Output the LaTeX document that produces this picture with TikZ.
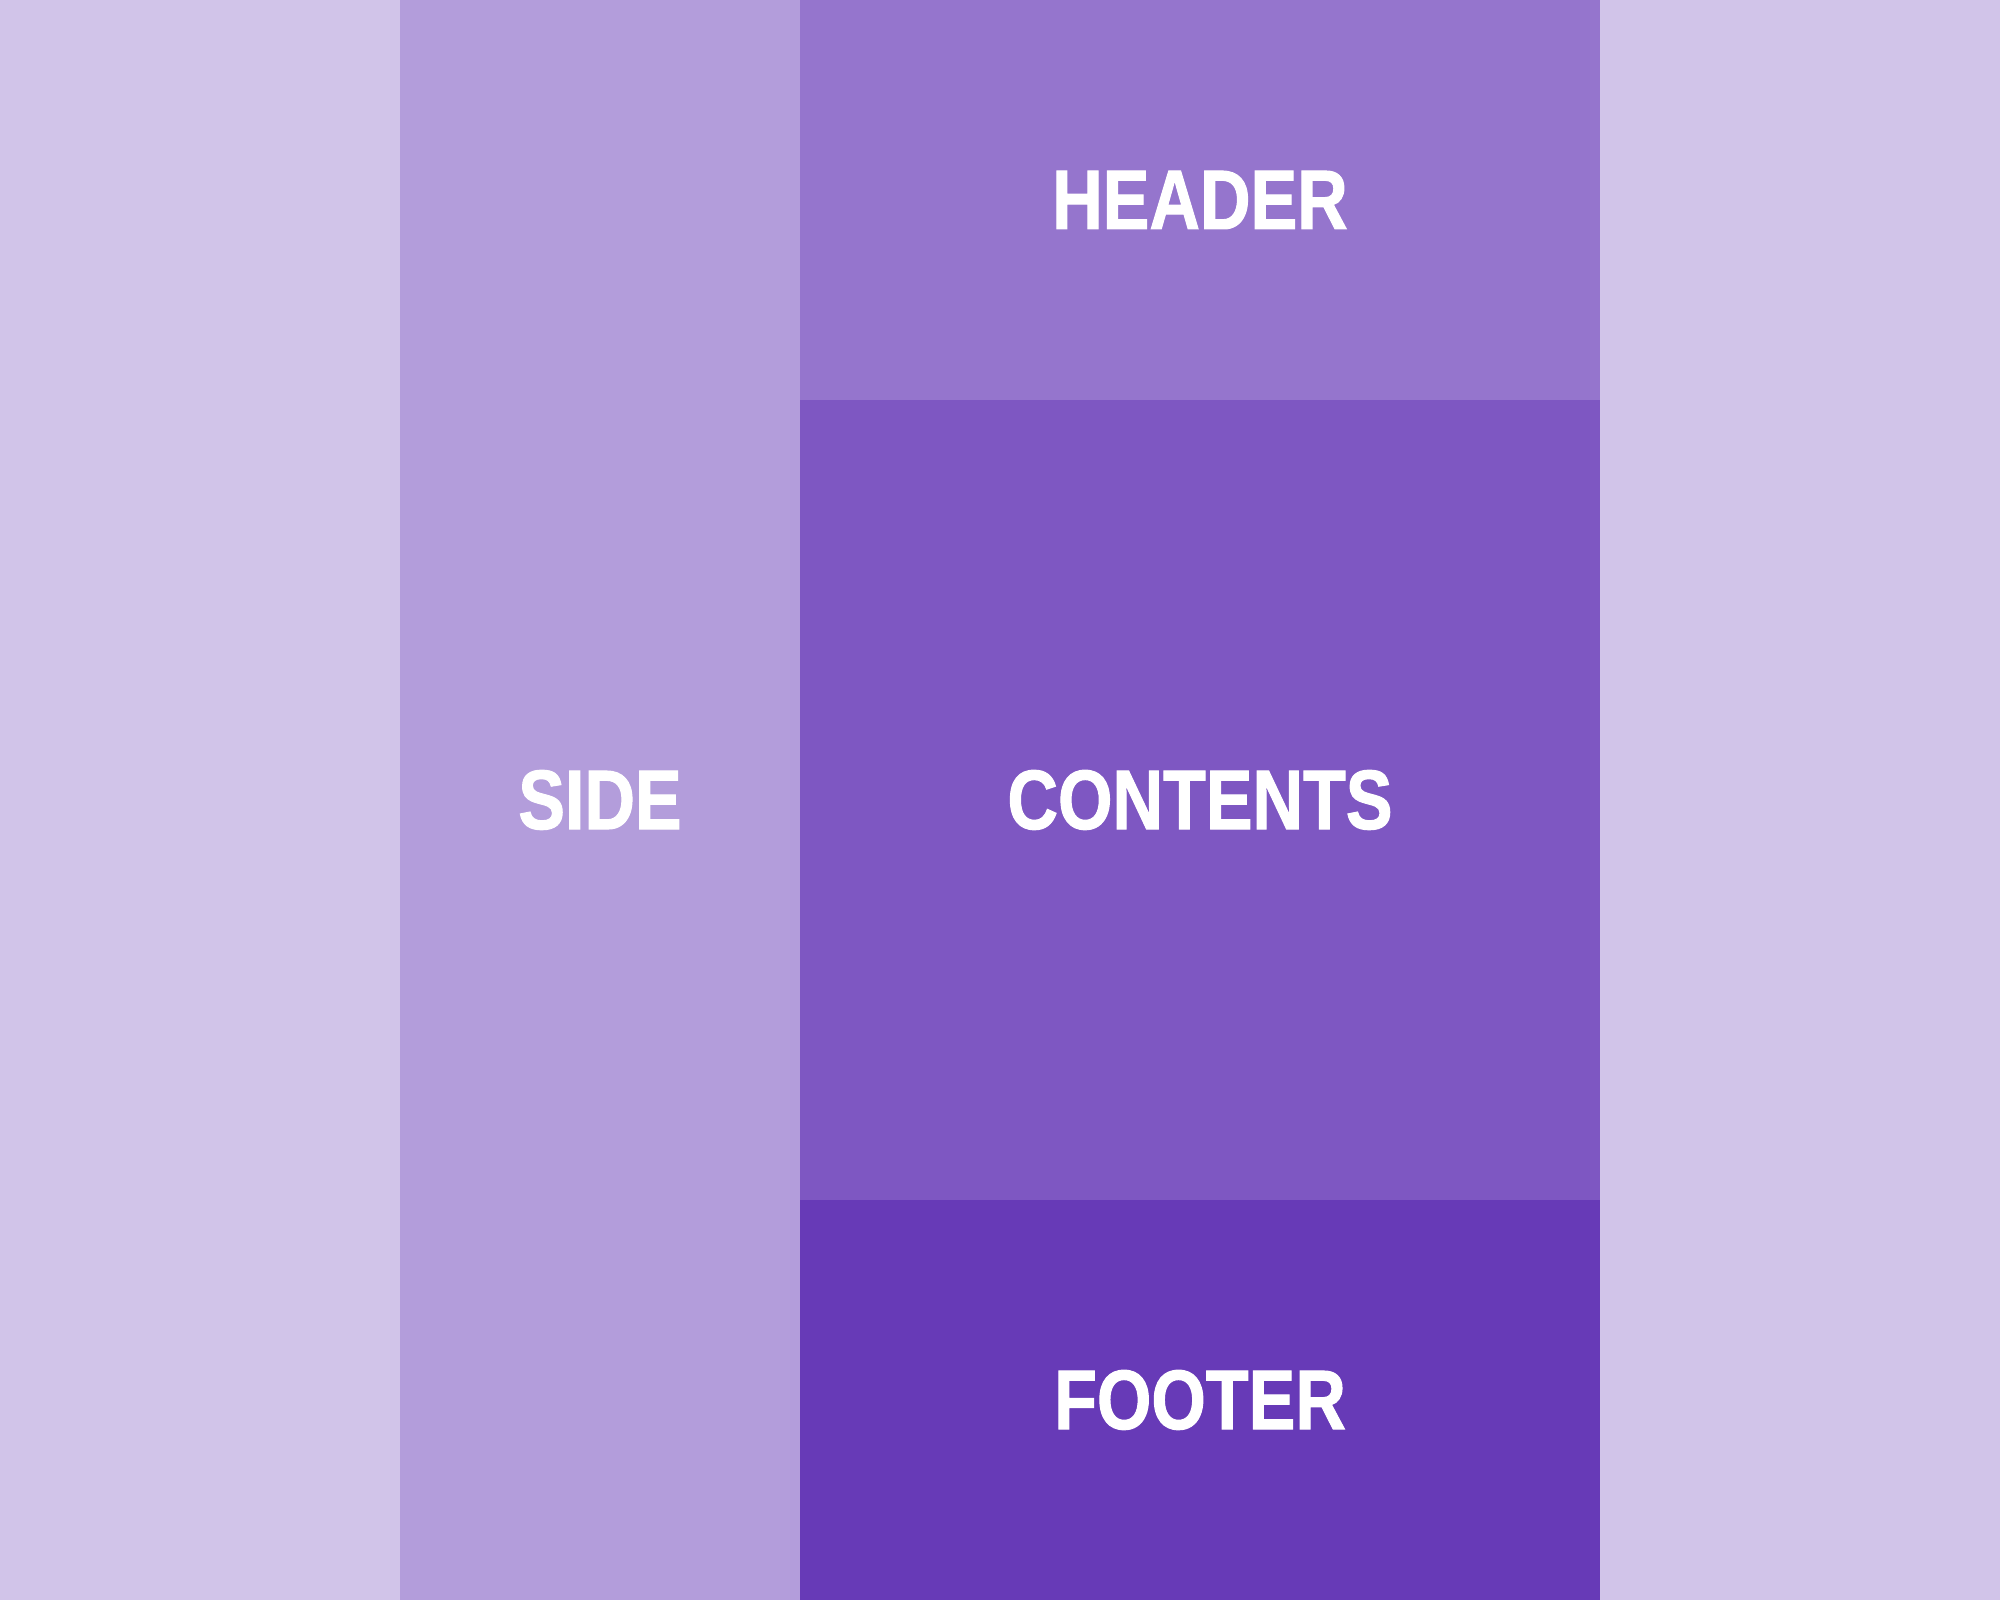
\documentclass[tikz,border=0pt]{standalone}
\usepackage{fontspec}
\setmainfont{Liberation Sans}[FakeStretch=0.83,BoldFeatures={FakeBold=1.2}]
\usetikzlibrary{positioning}
\definecolor{dpA}{HTML}{D1C4E9}
\definecolor{dpB}{HTML}{B39DDB}
\definecolor{dpC}{HTML}{9575CD}
\definecolor{dpD}{HTML}{7E57C2}
\definecolor{dpE}{HTML}{673AB7}
\tikzset{
  area/.style={inner sep=0pt, outer sep=0pt, text=white,
    font=\fontsize{24}{28}\selectfont\bfseries},
}
\begin{document}
\begin{tikzpicture}
        % page grid, 4cm cells
        \useasboundingbox (0,0) rectangle (20,16);
        \node[area,fill=dpA,minimum width=4cm,minimum height=16cm] (margl) at (2,8) {};
        \node[area,fill=dpA,minimum width=4cm,minimum height=16cm] (margr) at (18,8) {};
        \node[area,fill=dpB,minimum width=4cm,minimum height=16cm] (side) at (6,8) {SIDE};
        % main column
        \node[area,fill=dpC,minimum width=8cm,minimum height=4cm] (header) at (12,14) {HEADER};
        \node[area,fill=dpD,minimum width=8cm,minimum height=8cm,below=0pt of header] (contents) {CONTENTS};
        \node[area,fill=dpE,minimum width=8cm,minimum height=4cm,below=0pt of contents] (footer) {FOOTER};
      \end{tikzpicture}
\end{document}
